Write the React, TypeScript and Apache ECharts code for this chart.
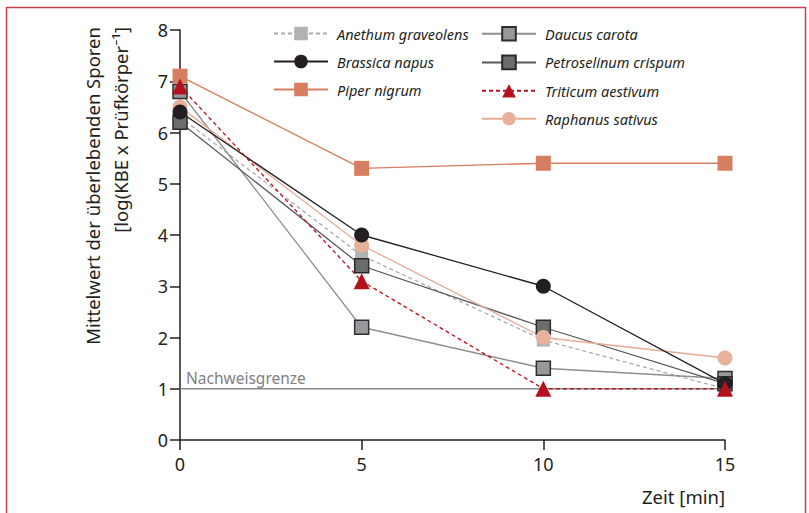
import React, { useEffect, useRef } from "react";
import * as echarts from "echarts";

const times = [0, 5, 10, 15];
const anethum = [6.3, 3.6, 1.95, 1.0];
const brassica = [6.4, 4.0, 3.0, 1.1];
const piper = [7.1, 5.3, 5.4, 5.4];
const daucus = [6.8, 2.2, 1.4, 1.2];
const petroselinum = [6.2, 3.4, 2.2, 1.1];
const triticum = [6.9, 3.1, 1.0, 1.0];
const raphanus = [6.5, 3.8, 2.0, 1.6];
const detectionLimit = 1;
const yTicks = [0, 1, 2, 3, 4, 5, 6, 7, 8];

const FONT = "'Noto Sans', 'Open Sans', sans-serif";

function pts(vals: number[]) {
  return times.map((t, i) => [t, vals[i]]);
}

export default function App() {
  const ref = useRef<HTMLDivElement>(null);
  useEffect(() => {
    if (!ref.current) return;
    const chart = echarts.init(ref.current, undefined, { renderer: "svg" });
    const mk = (
      name: string,
      vals: number[],
      color: string,
      lineColor: string,
      symbol: string,
      size: number,
      dashed: boolean,
      border?: string,
      z = 2
    ) => ({
      name,
      type: "line",
      data: pts(vals),
      symbol,
      symbolSize: size,
      z,
      lineStyle: { color: lineColor, width: 1.3, type: dashed ? [4, 3] : "solid" },
      itemStyle: {
        color,
        borderColor: border || color,
        borderWidth: border ? 1.5 : 0,
      },
    });
    const legendText = {
      fontStyle: "italic",
      fontSize: 14.5,
      color: "#231f20",
      fontFamily: FONT,
      padding: [0, 0, 0, 4],
    };
    chart.setOption({
      animation: false,
      grid: { left: 180, right: 84, top: 30, bottom: 73 },
      xAxis: {
        type: "value",
        min: 0,
        max: 15,
        interval: 5,
        splitLine: { show: false },
        axisLine: { lineStyle: { color: "#231f20", width: 1.5 } },
        axisTick: { length: 10, lineStyle: { color: "#231f20", width: 1.5 } },
        axisLabel: { color: "#231f20", fontSize: 18, margin: 15, fontFamily: FONT },
      },
      yAxis: {
        type: "value",
        min: 0,
        max: 8,
        interval: 1,
        splitLine: { show: false },
        axisLine: { show: true, lineStyle: { color: "#231f20", width: 1.5 } },
        axisTick: { show: true, length: 10, lineStyle: { color: "#231f20", width: 1.5 } },
        axisLabel: {
          color: "#231f20",
          fontSize: 18,
          margin: 12,
          fontFamily: FONT,
          formatter: (v: number) => (yTicks.includes(v) ? String(v) : ""),
        },
      },
      legend: [
        {
          orient: "vertical",
          left: 268,
          top: 21,
          itemWidth: 54,
          itemHeight: 17,
          itemGap: 13,
          textStyle: legendText,
          data: ["Anethum graveolens", "Brassica napus", "Piper nigrum"],
        },
        {
          orient: "vertical",
          left: 476,
          top: 21,
          itemWidth: 54,
          itemHeight: 17,
          itemGap: 13,
          textStyle: legendText,
          data: ["Daucus carota", "Petroselinum crispum", "Triticum aestivum", "Raphanus sativus"],
        },
      ],
      series: [
        {
          name: "Nachweisgrenze",
          type: "line",
          data: [[0, detectionLimit], [15, detectionLimit]],
          symbol: "none",
          z: 1,
          lineStyle: { color: "#8a8a8a", width: 1.3 },
          silent: true,
        },
        mk("Anethum graveolens", anethum, "#b1b2b4", "#a9aaad", "rect", 13, true),
        mk("Daucus carota", daucus, "#97989b", "#8d8e90", "rect", 14, false, "#2e2e2e"),
        mk("Petroselinum crispum", petroselinum, "#6b6c6e", "#58595b", "rect", 14, false, "#2a2a2a"),
        mk("Raphanus sativus", raphanus, "#e8b19c", "#e6ab95", "circle", 15, false),
        mk("Brassica napus", brassica, "#231f20", "#231f20", "circle", 15, false),
        mk("Piper nigrum", piper, "#d77e62", "#d77e62", "rect", 15, false),
        mk("Triticum aestivum", triticum, "#b3121c", "#b3121c", "triangle", 16, true),
      ],
      graphic: [
        {
          type: "rect",
          shape: { x: 6.5, y: 7.5, width: 799, height: 530 },
          style: { fill: "none", stroke: "#c9404a", lineWidth: 1.5 },
          silent: true,
        },
        {
          type: "text",
          x: 92,
          y: 27,
          rotation: Math.PI / 2,
          style: {
            text: "Mittelwert der überlebenden Sporen",
            align: "right",
            verticalAlign: "middle",
            fontSize: 18.5,
            fontFamily: FONT,
            fill: "#231f20",
          },
        },
        {
          type: "text",
          x: 120,
          y: 27,
          rotation: Math.PI / 2,
          style: {
            text: "[log(KBE x Prüfkörper⁻¹]",
            align: "right",
            verticalAlign: "middle",
            fontSize: 18.5,
            fontFamily: FONT,
            fill: "#231f20",
          },
        },
        {
          type: "text",
          x: 725,
          y: 496,
          style: {
            text: "Zeit [min]",
            align: "right",
            verticalAlign: "middle",
            fontSize: 18.5,
            fontFamily: FONT,
            fill: "#231f20",
          },
        },
        {
          type: "text",
          x: 186,
          y: 378,
          style: {
            text: "Nachweisgrenze",
            align: "left",
            verticalAlign: "middle",
            fontSize: 15.5,
            fontFamily: FONT,
            fill: "#7f7f7f",
          },
        },
      ],
    });
    return () => chart.dispose();
  }, []);
  return (
    <div
      ref={ref}
      style={{ position: "absolute", left: 0, top: 0, width: 809, height: 513, background: "#fff" }}
    />
  );
}
